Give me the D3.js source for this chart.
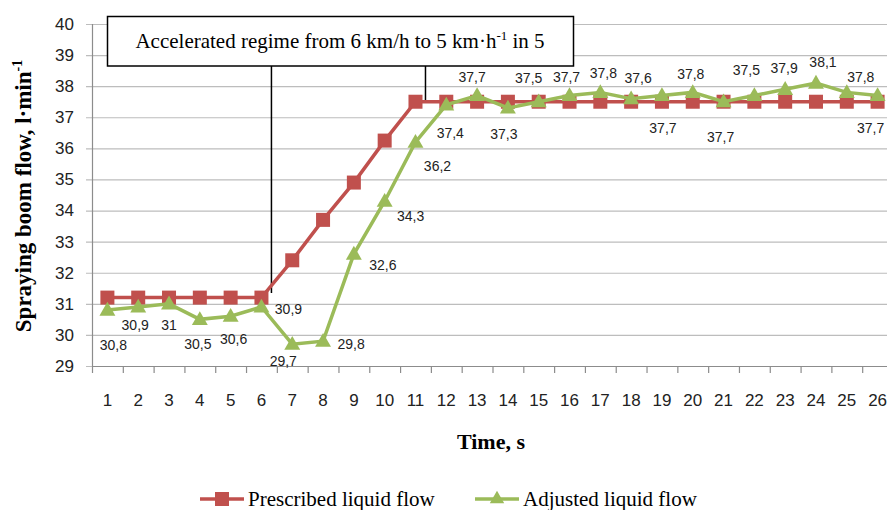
<!DOCTYPE html>
<html>
<head>
<meta charset="utf-8">
<script src="https://cdn.jsdelivr.net/npm/d3@7"></script>
<style>
  body { margin: 0; background: #fff; }
  svg { display: block; }
</style>
</head>
<body>
<svg id="chart" width="887" height="510"></svg>
<script>
// time steps, s
var seconds = d3.range(1, 27);
var prescribedFlow = [31.2, 31.2, 31.2, 31.2, 31.2, 31.2, 32.4, 33.7, 34.9, 36.25, 37.5, 37.5, 37.5,
	37.5, 37.5, 37.5, 37.5, 37.5, 37.5, 37.5, 37.5, 37.5, 37.5, 37.5, 37.5, 37.5];
var adjustedFlow = [30.8, 30.9, 31, 30.5, 30.6, 30.9, 29.7, 29.8, 32.6, 34.3, 36.2, 37.4, 37.7,
	37.3, 37.5, 37.7, 37.8, 37.6, 37.7, 37.8, 37.5, 37.7, 37.9, 38.1, 37.8, 37.7];
// label texts as printed on the chart
var adjustedLabels = ["30,8", "30,9", "31", "30,5", "30,6", "30,9", "29,7", "29,8", "32,6", "34,3",
	"36,2", "37,4", "37,7", "37,3", "37,5", "37,7", "37,8", "37,6", "37,7", "37,8", "37,7", "37,5",
	"37,9", "38,1", "37,8", "37,7"];
var yTicks = d3.range(29, 41);
var seriesNames = ["Prescribed liquid flow", "Adjusted liquid flow"];

// label offsets from the point (dx, dy)
var labelOffsets = [[6, 35], [-3, 18], [0, 21], [-2, 25], [3, 23], [27, 2], [-9, 17], [28, 3],
	[29, 11], [26, 15], [22, 24], [4, 28], [-5, -18], [-4, 26], [-10, -24], [-3, -18], [3, -19],
	[7, -21], [1, 33], [-2, -18], [-3, 35], [-8, -25], [-1, -21], [7, -21], [14, -15], [-7, 33]];

var red = "#c0504d", green = "#9bbb59";
var svg = d3.select("#chart");

var x = d3.scaleBand().domain(seconds).range([92, 893]);
var y = d3.scaleLinear().domain([29, 40]).range([366, 24]);
var cx = function(d) { return x(d) + x.bandwidth() / 2; };

// gridlines
svg.append("g").selectAll("line")
	.data(yTicks)
	.enter()
	.append("line")
	.attr("x1", 86).attr("x2", 893)
	.attr("y1", function(d) { return y(d) + 0.5; })
	.attr("y2", function(d) { return y(d) + 0.5; })
	.attr("stroke", "#bdbdbd")
	.attr("stroke-width", 1.2);

// axes lines
svg.append("line")
	.attr("x1", 92.5).attr("x2", 92.5).attr("y1", 24).attr("y2", 366)
	.attr("stroke", "#8c8c8c").attr("stroke-width", 1.2);
svg.append("line")
	.attr("x1", 92).attr("x2", 893).attr("y1", 366.5).attr("y2", 366.5)
	.attr("stroke", "#8c8c8c").attr("stroke-width", 1.2);
svg.append("g").selectAll("line")
	.data(seconds.concat([27]))
	.enter()
	.append("line")
	.attr("x1", function(d) { return (d <= 26 ? x(d) : 893) + 0.5; })
	.attr("x2", function(d) { return (d <= 26 ? x(d) : 893) + 0.5; })
	.attr("y1", 366).attr("y2", 373)
	.attr("stroke", "#8c8c8c").attr("stroke-width", 1.2);

// tick labels
svg.append("g").selectAll("text")
	.data(yTicks)
	.enter()
	.append("text")
	.attr("x", 74)
	.attr("y", function(d) { return y(d); })
	.attr("dy", "0.35em")
	.attr("text-anchor", "end")
	.style("font-family", "Liberation Sans, Arial, sans-serif")
	.style("font-size", "17px")
	.style("fill", "#222")
	.text(function(d) { return d; });

svg.append("g").selectAll("text")
	.data(seconds)
	.enter()
	.append("text")
	.attr("x", cx)
	.attr("y", 400)
	.attr("dy", "0.35em")
	.attr("text-anchor", "middle")
	.style("font-family", "Liberation Sans, Arial, sans-serif")
	.style("font-size", "17px")
	.style("fill", "#222")
	.text(function(d) { return d; });

// axis titles
svg.append("text")
	.attr("x", 491).attr("y", 449)
	.attr("text-anchor", "middle")
	.style("font-family", "Liberation Serif, Times New Roman, serif")
	.style("font-weight", "bold")
	.style("font-size", "22px")
	.text("Time, s");

var yTitle = svg.append("text")
	.attr("transform", "translate(31,196) rotate(-90)")
	.attr("text-anchor", "middle")
	.style("font-family", "Liberation Serif, Times New Roman, serif")
	.style("font-weight", "bold")
	.style("font-size", "23px");
yTitle.append("tspan").text("Spraying boom flow, l\u00b7min");
yTitle.append("tspan").attr("dy", -9).style("font-size", "14px").text("-1");

// annotation
var noteLines = [[6, 66, 293], [11, 66, 100]];
svg.append("g").selectAll("line")
	.data(noteLines)
	.enter()
	.append("line")
	.attr("x1", function(d) { return cx(d[0]) + 10; })
	.attr("x2", function(d) { return cx(d[0]) + 10; })
	.attr("y1", function(d) { return d[1]; })
	.attr("y2", function(d) { return d[2]; })
	.attr("stroke", "#000")
	.attr("stroke-width", 1.5);

svg.append("rect")
	.attr("x", 107.5).attr("y", 16.5).attr("width", 466).attr("height", 49.5)
	.attr("fill", "#fff").attr("stroke", "#000").attr("stroke-width", 1.5);
var note = svg.append("text")
	.attr("x", 340).attr("y", 48)
	.attr("text-anchor", "middle")
	.style("font-family", "Liberation Serif, Times New Roman, serif")
	.style("font-size", "21px");
note.append("tspan").text("Accelerated regime from 6 km/h to 5 km\u00b7h");
note.append("tspan").attr("dy", -8).style("font-size", "13px").text("-1");
note.append("tspan").attr("dy", 8).text(" in 5");

// series lines
var line = function(values) {
	return d3.line()
		.x(function(d, i) { return cx(seconds[i]); })
		.y(function(d) { return y(d); })(values);
};

svg.append("path")
	.attr("d", line(prescribedFlow))
	.attr("fill", "none")
	.attr("stroke", red)
	.attr("stroke-width", 3.5);

svg.append("g").selectAll("rect")
	.data(prescribedFlow)
	.enter()
	.append("rect")
	.attr("x", function(d, i) { return cx(seconds[i]) - 7; })
	.attr("y", function(d) { return y(d) - 7; })
	.attr("width", 14).attr("height", 14)
	.attr("fill", red);

svg.append("path")
	.attr("d", line(adjustedFlow))
	.attr("fill", "none")
	.attr("stroke", green)
	.attr("stroke-width", 3.5);

var tri = d3.symbol().type(d3.symbolTriangle).size(110);
svg.append("g").selectAll("path")
	.data(adjustedFlow)
	.enter()
	.append("path")
	.attr("d", tri)
	.attr("transform", function(d, i) {
		return "translate(" + cx(seconds[i]) + "," + (y(d) + 1) + ")";
	})
	.attr("fill", green);

svg.append("g").selectAll("text")
	.data(adjustedFlow)
	.enter()
	.append("text")
	.attr("x", function(d, i) { return cx(seconds[i]) + labelOffsets[i][0]; })
	.attr("y", function(d, i) { return y(d) + labelOffsets[i][1]; })
	.attr("dy", "0.35em")
	.attr("text-anchor", "middle")
	.style("font-family", "Liberation Sans, Arial, sans-serif")
	.style("font-size", "14px")
	.style("fill", "#222")
	.text(function(d, i) { return adjustedLabels[i]; });

// legend
var legendX = [200, 475];
var legend = svg.append("g").selectAll("g")
	.data(seriesNames)
	.enter()
	.append("g")
	.attr("transform", function(d, i) { return "translate(" + legendX[i] + ",499)"; });
legend.append("line")
	.attr("x1", 0).attr("x2", 44).attr("y1", 0).attr("y2", 0)
	.attr("stroke", function(d, i) { return i ? green : red; })
	.attr("stroke-width", 3.5);
legend.append("path")
	.attr("d", function(d, i) {
		return i ? d3.symbol().type(d3.symbolTriangle).size(90)() : "M-7,-7h14v14h-14z";
	})
	.attr("transform", "translate(22,0)")
	.attr("fill", function(d, i) { return i ? green : red; });
legend.append("text")
	.attr("x", 48).attr("y", 0)
	.attr("dy", "0.32em")
	.style("font-family", "Liberation Serif, Times New Roman, serif")
	.style("font-size", "21px")
	.text(function(d) { return d; });
</script>
</body>
</html>
